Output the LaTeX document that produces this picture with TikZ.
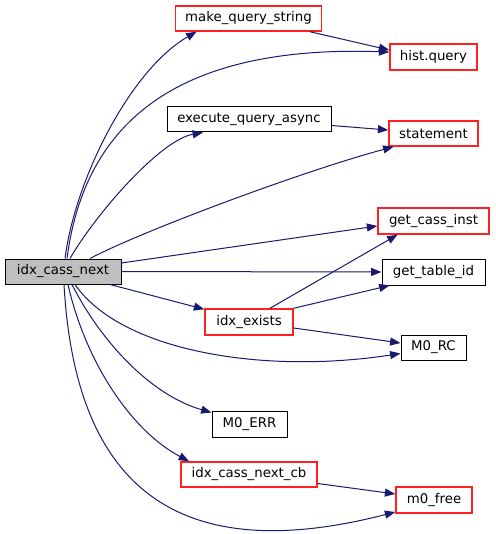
\documentclass[tikz,border=0pt]{standalone}
\usepackage{fontspec}
\setmainfont{DejaVu Sans}
\usetikzlibrary{arrows.meta,calc}
\definecolor{edgeblue}{HTML}{191970}
\definecolor{nodered}{HTML}{FF2020}
\begin{document}
\begin{tikzpicture}[x=0.75pt,y=-0.75pt,
  fn/.style={draw=black,fill=white,line width=0.75pt,inner sep=0pt,font=\fontsize{10}{12}\selectfont},
  redfn/.style={fn,draw=nodered,line width=1.1pt},
  rootfn/.style={fn,fill=black!25},
  wh/.style 2 args={minimum width=#1*0.75pt,minimum height=#2*0.75pt},
  call/.style={draw=edgeblue,line width=0.75pt,-{Triangle[length=7.8pt,width=6pt]}}]
\useasboundingbox (0,0) rectangle (495,534);
\node[rootfn,wh={116}{25}] (root) at (63,271.5) {idx\_cass\_next};
\node[redfn,wh={146}{25}] (mqs) at (248.5,18.5) {make\_query\_string};
\node[redfn,wh={87}{26}] (hq) at (433.5,57) {hist.query};
\node[fn,wh={164}{25}] (eqa) at (249,119.5) {execute\_query\_async};
\node[redfn,wh={89}{25}] (stmt) at (433.5,133.5) {statement};
\node[redfn,wh={111}{26}] (gci) at (433.5,221) {get\_cass\_inst};
\node[fn,wh={103}{26}] (gti) at (433.5,272) {get\_table\_id};
\node[redfn,wh={88}{26}] (ie) at (249,322) {idx\_exists};
\node[fn,wh={65}{25}] (mrc) at (433.5,347.5) {M0\_RC};
\node[fn,wh={75}{26}] (merr) at (249.5,424) {M0\_ERR};
\node[redfn,wh={136}{25}] (icnc) at (249,474.5) {idx\_cass\_next\_cb};
\node[redfn,wh={76}{26}] (mf) at (434,500) {m0\_free};

\draw[call] ($(root.north)+(2,0)$) .. controls (75,180) and (130,70) .. ($(mqs.south)+(-52,0)$);
\draw[call] ($(mqs.south)+(61.5,0)$) -- ($(hq.west)+(0,-7)$);
\draw[call] ($(root.north)+(4,0)$) .. controls (85,120) and (180,45) .. ($(hq.west)+(0,-5)$);
\draw[call] ($(root.north)+(7,0)$) .. controls (95,215) and (160,140) .. ($(eqa.south)+(-46,0)$);
\draw[call] ($(eqa.east)+(0,6)$) -- ($(stmt.west)+(0,-3.5)$);
\draw[call] ($(root.north)+(27,0)$) .. controls (140,232) and (300,172) .. ($(stmt.south)+(-40,0)$);
\draw[call] ($(root.east)+(0,-8.5)$) -- ($(gci.west)+(0,5)$);
\draw[call] (root.east) -- (gti.west);
\draw[call] ($(root.south)+(47,0)$) -- ($(ie.north west)+(0,1)$);
\draw[call] ($(ie.north)+(21,0)$) -- ($(gci.south)+(-36,0)$);
\draw[call] (ie.north east) -- ($(gti.south)+(-44,0)$);
\draw[call] ($(ie.east)+(0,6)$) -- ($(mrc.west)+(0,-4.5)$);
\draw[call] ($(root.south)+(12,0)$) .. controls (120,350) and (260,375) .. ($(mrc.west)+(0,6)$);
\draw[call] ($(root.south)+(9,0)$) .. controls (100,340) and (150,395) .. ($(merr.north west)+(0,2)$);
\draw[call] ($(root.south)+(5,0)$) .. controls (85,360) and (130,430) .. ($(icnc.north)+(-60,0)$);
\draw[call] ($(icnc.east)+(0,9)$) -- ($(mf.west)+(0,-6)$);
\draw[call] ($(root.south)+(1,0)$) .. controls (75,480) and (170,570) .. ($(mf.west)+(0,12)$);
\end{tikzpicture}
\end{document}
